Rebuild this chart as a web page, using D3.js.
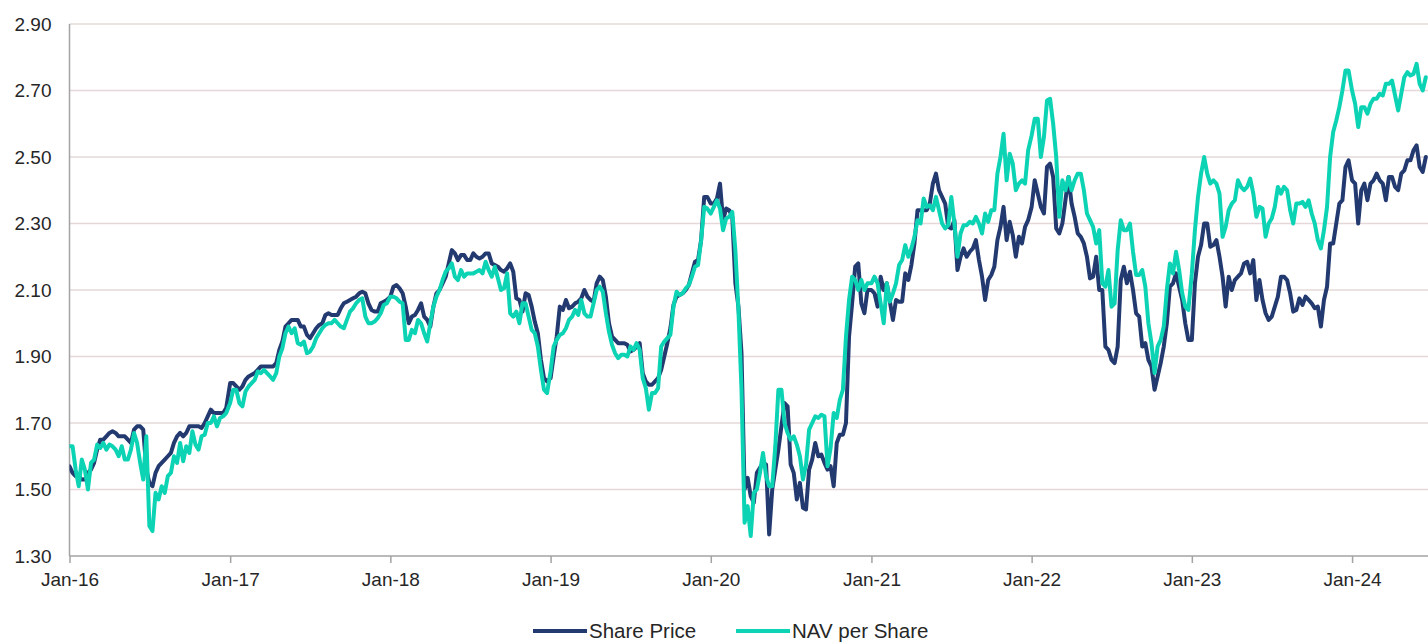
<!DOCTYPE html>
<html><head><meta charset="utf-8">
<script src="https://cdn.jsdelivr.net/npm/d3@7"></script>
<style>
body{margin:0;background:#fff;}
svg text{font-family:"Liberation Sans",Arial,sans-serif;}
</style>
</head><body>
<svg id="chart" width="1428" height="643"></svg>
<script>
// ---- data (weekly readings, one array per calendar year) ----
const seriesNames = ["Share Price", "NAV per Share"];
const years = [2016, 2017, 2018, 2019, 2020, 2021, 2022, 2023, 2024];
const yTickValues = [1.30, 1.50, 1.70, 1.90, 2.10, 2.30, 2.50, 2.70, 2.90];

const sp2016 = [1.57,1.55,1.54,1.54,1.53,1.53,1.55,1.56,1.58,1.62,1.65,1.65,1.66,1.67,1.675,1.67,1.66,1.66,1.66,1.65,1.64,1.68,1.69,1.69,1.68,1.56,1.52,1.51,1.55,1.57,1.58,1.59,1.60,1.61,1.64,1.66,1.67,1.66,1.67,1.69,1.69,1.69,1.69,1.685,1.70,1.72,1.74,1.73,1.73,1.73,1.73,1.745];
const nav2016 = [1.63,1.63,1.56,1.51,1.59,1.56,1.50,1.58,1.59,1.635,1.625,1.64,1.62,1.635,1.63,1.62,1.60,1.63,1.59,1.59,1.62,1.67,1.64,1.58,1.53,1.66,1.39,1.375,1.49,1.47,1.51,1.49,1.54,1.55,1.60,1.58,1.64,1.585,1.63,1.61,1.675,1.635,1.62,1.66,1.665,1.70,1.70,1.72,1.69,1.715,1.72,1.73];

const sp2017 = [1.82,1.82,1.81,1.80,1.81,1.83,1.84,1.845,1.85,1.86,1.87,1.87,1.87,1.87,1.87,1.88,1.92,1.945,1.99,2.00,2.01,2.01,2.01,1.99,1.99,1.965,1.955,1.97,1.985,1.995,2.00,2.025,2.03,2.025,2.025,2.025,2.045,2.06,2.065,2.07,2.075,2.08,2.09,2.095,2.09,2.06,2.04,2.035,2.035,2.06,2.065,2.07];
const nav2017 = [1.76,1.80,1.80,1.76,1.75,1.795,1.81,1.82,1.83,1.855,1.85,1.86,1.85,1.84,1.83,1.85,1.90,1.925,1.97,1.99,1.97,1.985,1.94,1.935,1.945,1.91,1.915,1.93,1.955,1.97,1.985,1.995,2.00,2.00,2.01,2.00,1.99,1.985,2.01,2.035,2.045,2.06,2.07,2.075,2.02,2.00,2.00,2.005,2.015,2.03,2.055,2.06];

const sp2018 = [2.08,2.11,2.115,2.105,2.09,2.05,2.00,2.02,2.025,2.04,2.06,2.02,2.01,1.99,2.05,2.09,2.10,2.12,2.14,2.18,2.22,2.21,2.19,2.205,2.205,2.19,2.19,2.21,2.20,2.195,2.20,2.21,2.21,2.18,2.175,2.17,2.16,2.155,2.165,2.18,2.155,2.075,2.07,2.035,2.09,2.085,2.05,2.005,1.97,1.89,1.835,1.825];
const nav2018 = [2.08,2.08,2.075,2.065,2.06,1.95,1.95,1.98,1.97,2.01,2.00,1.97,1.945,2.00,2.05,2.08,2.10,2.13,2.155,2.165,2.18,2.14,2.13,2.16,2.14,2.15,2.15,2.15,2.155,2.16,2.15,2.185,2.16,2.14,2.17,2.135,2.10,2.105,2.15,2.03,2.02,2.035,2.00,2.06,2.06,2.02,1.98,1.97,1.93,1.86,1.80,1.79];

const sp2019 = [1.835,1.90,1.96,2.05,2.04,2.07,2.045,2.05,2.06,2.065,2.075,2.10,2.08,2.07,2.065,2.12,2.14,2.13,2.08,2.00,1.96,1.95,1.94,1.94,1.94,1.935,1.915,1.92,1.93,1.94,1.85,1.825,1.815,1.815,1.825,1.835,1.86,1.90,1.94,1.985,2.055,2.08,2.085,2.09,2.10,2.115,2.15,2.185,2.19,2.25,2.38,2.38];
const nav2019 = [1.855,1.93,1.95,1.965,1.97,1.985,2.01,2.02,2.04,2.025,2.07,2.03,2.02,2.02,2.06,2.10,2.11,2.095,2.03,1.975,1.935,1.91,1.895,1.905,1.905,1.90,1.93,1.92,1.94,1.92,1.835,1.805,1.74,1.79,1.79,1.805,1.93,1.945,1.955,1.965,2.05,2.095,2.085,2.09,2.105,2.115,2.14,2.17,2.175,2.25,2.35,2.345];

const sp2020 = [2.36,2.36,2.375,2.42,2.31,2.345,2.34,2.32,2.12,2.05,1.91,1.50,1.535,1.48,1.46,1.55,1.565,1.58,1.575,1.365,1.50,1.56,1.62,1.69,1.76,1.75,1.575,1.55,1.47,1.52,1.445,1.44,1.56,1.59,1.64,1.60,1.605,1.58,1.56,1.57,1.51,1.64,1.665,1.665,1.70,1.96,2.06,2.17,2.18,2.06,2.03,2.10];
const nav2020 = [2.33,2.35,2.37,2.345,2.28,2.315,2.32,2.335,2.22,2.04,1.80,1.40,1.45,1.36,1.49,1.50,1.55,1.61,1.54,1.51,1.51,1.63,1.80,1.80,1.70,1.67,1.65,1.66,1.635,1.60,1.53,1.575,1.68,1.70,1.72,1.715,1.725,1.72,1.57,1.625,1.73,1.715,1.77,1.80,1.96,2.07,2.14,2.13,2.10,2.13,2.10,2.12];

const sp2021 = [2.10,2.09,2.05,2.14,2.10,2.12,2.065,2.01,2.07,2.065,2.065,2.15,2.13,2.175,2.24,2.34,2.34,2.34,2.34,2.36,2.42,2.45,2.40,2.38,2.36,2.29,2.285,2.31,2.16,2.20,2.225,2.20,2.215,2.225,2.25,2.19,2.14,2.07,2.13,2.145,2.17,2.25,2.29,2.35,2.25,2.305,2.265,2.20,2.26,2.24,2.29,2.31];
const nav2021 = [2.12,2.14,2.12,2.06,2.00,2.12,2.065,2.09,2.12,2.175,2.19,2.235,2.20,2.225,2.26,2.31,2.30,2.375,2.35,2.355,2.34,2.38,2.34,2.30,2.285,2.295,2.38,2.30,2.20,2.27,2.295,2.295,2.305,2.30,2.32,2.30,2.27,2.33,2.305,2.34,2.34,2.45,2.50,2.57,2.43,2.51,2.48,2.40,2.42,2.43,2.42,2.52];

const sp2022 = [2.35,2.43,2.39,2.35,2.33,2.47,2.48,2.44,2.285,2.27,2.30,2.37,2.44,2.36,2.32,2.27,2.26,2.24,2.20,2.135,2.14,2.20,2.10,2.10,1.93,1.92,1.89,1.88,1.93,2.13,2.17,2.12,2.155,2.10,2.03,2.02,1.93,1.94,1.89,1.87,1.80,1.84,1.88,1.93,2.00,2.11,2.12,2.15,2.11,2.07,2.00,1.95];
const nav2022 = [2.565,2.615,2.615,2.50,2.56,2.67,2.675,2.60,2.50,2.32,2.43,2.40,2.44,2.40,2.43,2.45,2.45,2.40,2.33,2.31,2.29,2.24,2.28,2.12,2.11,2.16,2.05,2.06,2.22,2.31,2.28,2.28,2.30,2.215,2.145,2.145,2.16,2.11,2.00,1.94,1.85,1.93,1.95,1.99,2.10,2.18,2.15,2.215,2.16,2.09,2.05,2.04];

const sp2023 = [1.95,2.12,2.20,2.235,2.30,2.30,2.23,2.235,2.25,2.20,2.14,2.05,2.14,2.10,2.13,2.14,2.15,2.18,2.185,2.15,2.19,2.07,2.13,2.07,2.03,2.01,2.02,2.05,2.08,2.14,2.14,2.13,2.09,2.035,2.04,2.075,2.055,2.08,2.07,2.06,2.045,2.05,1.99,2.07,2.11,2.24,2.24,2.30,2.36,2.37,2.47,2.49];
const nav2023 = [2.15,2.28,2.38,2.45,2.50,2.45,2.42,2.43,2.42,2.39,2.26,2.29,2.34,2.36,2.37,2.43,2.41,2.40,2.41,2.435,2.39,2.32,2.35,2.345,2.26,2.30,2.315,2.35,2.41,2.39,2.41,2.40,2.34,2.30,2.36,2.36,2.365,2.35,2.37,2.33,2.30,2.25,2.225,2.28,2.35,2.50,2.575,2.61,2.65,2.70,2.76,2.76];

const sp2024 = [2.43,2.42,2.30,2.40,2.42,2.37,2.42,2.43,2.45,2.43,2.42,2.37,2.44,2.44,2.41,2.40,2.45,2.46,2.49,2.49,2.52,2.535,2.47,2.455,2.50];
const nav2024 = [2.70,2.66,2.59,2.65,2.65,2.63,2.66,2.675,2.675,2.69,2.685,2.72,2.72,2.73,2.685,2.64,2.69,2.74,2.755,2.745,2.75,2.78,2.72,2.70,2.74];

const spByYear  = [sp2016, sp2017, sp2018, sp2019, sp2020, sp2021, sp2022, sp2023, sp2024];
const navByYear = [nav2016, nav2017, nav2018, nav2019, nav2020, nav2021, nav2022, nav2023, nav2024];

(function () {
  function build(byYear) {
    const out = [];
    byYear.forEach((arr, yi) => {
      arr.forEach((v, i) => out.push({ date: new Date(years[yi], 0, 1 + 7 * i), value: v }));
    });
    return out;
  }
  const spData = build(spByYear);
  const navData = build(navByYear);

  const svg = d3.select("#chart");
  const mLeft = 69.5, mRight = 1428, mTop = 24, mBottom = 556;
  const colors = ["#233a70", "#0cd3b4"];
  const font = '"Liberation Sans", Arial, sans-serif';

  const x = d3.scaleTime()
    .domain([new Date(2016, 0, 1), new Date(2024, 5, 22)])
    .range([mLeft, mRight]);
  const y = d3.scaleLinear().domain([1.30, 2.90]).range([mBottom, mTop]);

  // gridlines
  svg.append("g").selectAll("line")
    .data(yTickValues.slice(1))
    .join("line")
    .attr("x1", mLeft).attr("x2", mRight)
    .attr("y1", d => y(d)).attr("y2", d => y(d))
    .attr("stroke", "#e5d8d9").attr("stroke-width", 1.5);

  // y axis labels
  const yAxis = d3.axisLeft(y).tickValues(yTickValues).tickFormat(d3.format(".2f")).tickSize(0).tickPadding(18);
  const gy = svg.append("g").attr("transform", `translate(${mLeft},0)`).call(yAxis);
  gy.select(".domain").remove();
  gy.selectAll("text").attr("font-size", 19).attr("fill", "#262626").attr("font-family", font);

  // x axis
  const xTicks = years.map(yr => new Date(yr, 0, 1));
  const xAxis = d3.axisBottom(x).tickValues(xTicks).tickFormat(d3.timeFormat("%b-%y")).tickSize(7).tickPadding(10);
  const gx = svg.append("g").attr("transform", `translate(0,${mBottom})`).call(xAxis);
  gx.select(".domain").remove();
  gx.selectAll(".tick line").attr("stroke", "#a3a3a3").attr("stroke-width", 1.5);
  gx.selectAll("text").attr("font-size", 19).attr("fill", "#262626").attr("font-family", font);

  // axis lines
  svg.append("line").attr("x1", mLeft).attr("x2", mRight).attr("y1", mBottom).attr("y2", mBottom)
    .attr("stroke", "#a3a3a3").attr("stroke-width", 1.5);
  svg.append("line").attr("x1", mLeft).attr("x2", mLeft).attr("y1", mTop).attr("y2", mBottom)
    .attr("stroke", "#a3a3a3").attr("stroke-width", 1.5);

  // series
  const line = d3.line().x(d => x(d.date)).y(d => y(d.value));
  svg.append("defs").append("clipPath").attr("id", "clip")
    .append("rect").attr("x", mLeft).attr("y", 0).attr("width", mRight - mLeft).attr("height", mBottom);
  const gLines = svg.append("g").attr("clip-path", "url(#clip)");
  [spData, navData].forEach((data, i) => {
    gLines.append("path").datum(data)
      .attr("d", line).attr("fill", "none")
      .attr("stroke", colors[i]).attr("stroke-width", 4)
      .attr("stroke-linejoin", "round").attr("stroke-linecap", "round");
  });

  // legend
  const legendItems = [{ x: 533, name: seriesNames[0], c: colors[0] }, { x: 736, name: seriesNames[1], c: colors[1] }];
  const lg = svg.append("g");
  legendItems.forEach(it => {
    lg.append("line").attr("x1", it.x).attr("x2", it.x + 54).attr("y1", 631).attr("y2", 631)
      .attr("stroke", it.c).attr("stroke-width", 4);
    lg.append("text").attr("x", it.x + 56).attr("y", 631).attr("dy", "0.36em")
      .attr("font-size", 20.5).attr("fill", "#262626").attr("font-family", font).text(it.name);
  });
})();
</script>
</body></html>
